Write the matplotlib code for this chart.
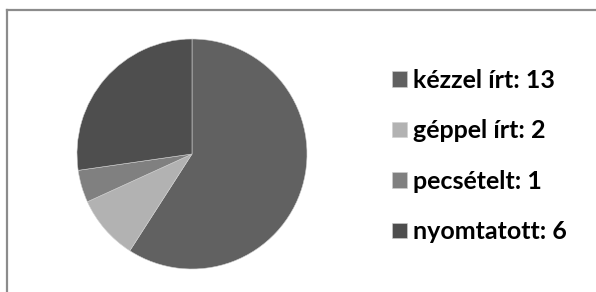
import matplotlib.pyplot as plt
from matplotlib.lines import Line2D

labels = ["kézzel írt", "géppel írt", "pecsételt", "nyomtatott"]
values = [13, 2, 1, 6]
colors = ["#616161", "#b2b2b2", "#808080", "#4e4e4e"]

W, H = 596, 292
fig = plt.figure(figsize=(W / 100, H / 100), dpi=100)

# chart frame (runs off the right and bottom edges like the original)
fig.add_artist(Line2D([7 / W, 1.0], [1 - 10 / H, 1 - 10 / H], color="#8c8c8c", lw=1.6))
fig.add_artist(Line2D([7 / W, 7 / W], [0.0, 1 - 10 / H], color="#8c8c8c", lw=1.6))

ax = fig.add_axes([(192 - 115) / W, 23 / H, 230 / W, 230 / H])
wedges, _ = ax.pie(values, colors=colors, startangle=90, counterclock=False,
                   wedgeprops=dict(edgecolor="#d0d0d0", linewidth=0.4))
ax.set_xlim(-1, 1)
ax.set_ylim(-1, 1)
ax.set_aspect("equal")

leg_labels = [f"{l}: {v}" for l, v in zip(labels, values)]
fig.legend(wedges, leg_labels, loc="center left", bbox_to_anchor=(392 / W, 1 - 156 / H),
           frameon=False, handlelength=0.6, handleheight=0.6, handletextpad=0.25,
           labelspacing=1.1, borderpad=0, borderaxespad=0,
           prop=dict(family="Lato", weight="bold", size=18))

fig.savefig("out.png", dpi=100)
